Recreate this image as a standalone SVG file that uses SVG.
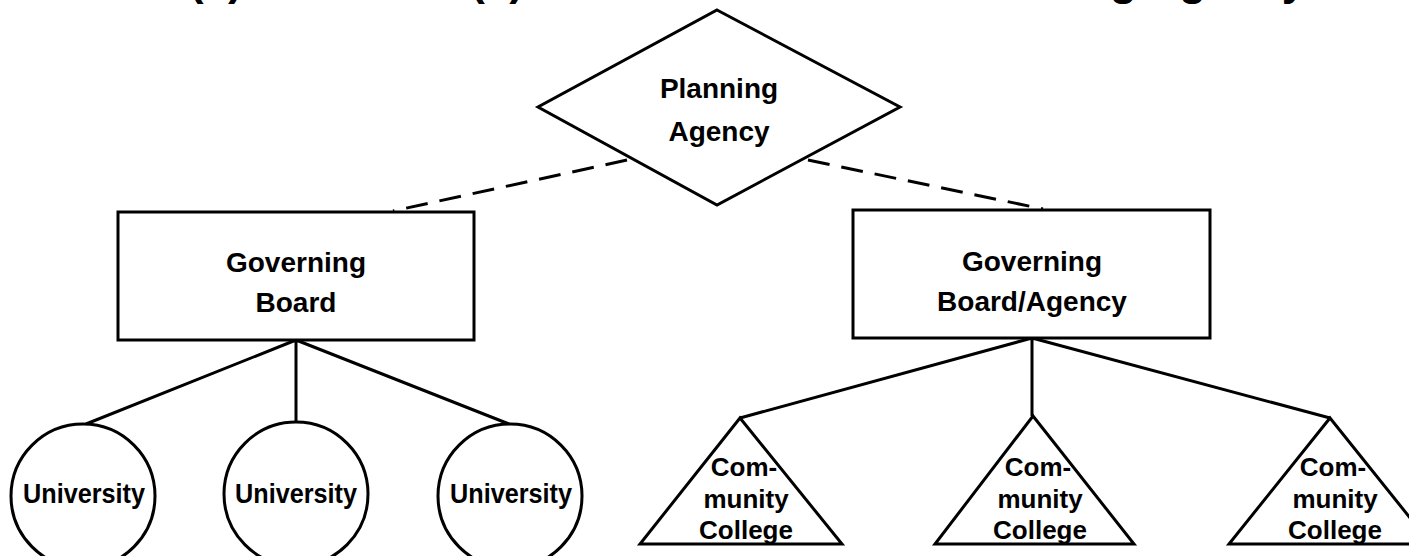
<svg xmlns="http://www.w3.org/2000/svg" width="1409" height="556" viewBox="0 0 1409 556">
  <style>
    .shape { fill: #fff; stroke: #000; stroke-width: 3; }
    .line { fill: none; stroke: #000; stroke-width: 3; }
    .dash { fill: none; stroke: #000; stroke-width: 3; stroke-dasharray: 22 12; }
    .lbl { font-family: "Liberation Sans", Arial, sans-serif; font-weight: bold; fill: #000; text-anchor: middle; }
    .big { font-size: 28px; }
    .mid { font-size: 26px; }
    .sm { font-size: 27px; }
    .title { font-family: "Liberation Sans", Arial, sans-serif; font-weight: bold; font-size: 44px; fill: #000; }
  </style>
  <rect width="1409" height="556" fill="#fff"/>
  <text class="title" x="140" y="-5">2. (2) Same as 2(1) but with a<tspan x="951">Planning Agency</tspan></text>

  <g id="connectors">
    <path class="dash" d="M627,160 L393,211"/>
    <path class="dash" d="M808,160 L1043,209"/>
    <path class="line" d="M296,340 L86,424 M296,340 L296,422 M296,340 L509,424"/>
    <path class="line" d="M1032,338 L740,418 M1032,338 L1032,416 M1032,338 L1330,418"/>
  </g>

  <g id="planning-agency">
    <polygon class="shape" points="717,10 900,107 717,205 538,107"/>
    <text class="lbl big" x="719" y="98">Planning</text>
    <text class="lbl big" x="719" y="141">Agency</text>
  </g>

  <g id="governing-board">
    <rect class="shape" x="118" y="212" width="356" height="128"/>
    <text class="lbl big" x="296" y="272">Governing</text>
    <text class="lbl big" x="296" y="312">Board</text>
  </g>

  <g id="governing-board-agency">
    <rect class="shape" x="853" y="210" width="357" height="128"/>
    <text class="lbl big" x="1032" y="271">Governing</text>
    <text class="lbl big" x="1032" y="311">Board/Agency</text>
  </g>

  <g id="university-1">
    <circle class="shape" cx="83" cy="496" r="72"/>
    <text class="lbl sm" x="84" y="503" textLength="122" lengthAdjust="spacingAndGlyphs">University</text>
  </g>
  <g id="university-2">
    <circle class="shape" cx="296" cy="494" r="72"/>
    <text class="lbl sm" x="296" y="503" textLength="122" lengthAdjust="spacingAndGlyphs">University</text>
  </g>
  <g id="university-3">
    <circle class="shape" cx="510" cy="496" r="72"/>
    <text class="lbl sm" x="511" y="503" textLength="122" lengthAdjust="spacingAndGlyphs">University</text>
  </g>

  <g id="college-1">
    <polygon class="shape" points="740,418 842,544 640,544"/>
    <text class="lbl mid" x="744" y="476">Com-</text>
    <text class="lbl mid" x="746" y="508">munity</text>
    <text class="lbl mid" x="746" y="539">College</text>
  </g>
  <g id="college-2">
    <polygon class="shape" points="1033,416 1134,544 935,544"/>
    <text class="lbl mid" x="1038" y="476">Com-</text>
    <text class="lbl mid" x="1040" y="508">munity</text>
    <text class="lbl mid" x="1040" y="539">College</text>
  </g>
  <g id="college-3">
    <polygon class="shape" points="1330,418 1431,544 1229,544"/>
    <text class="lbl mid" x="1333" y="476">Com-</text>
    <text class="lbl mid" x="1335" y="508">munity</text>
    <text class="lbl mid" x="1335" y="539">College</text>
  </g>
</svg>
